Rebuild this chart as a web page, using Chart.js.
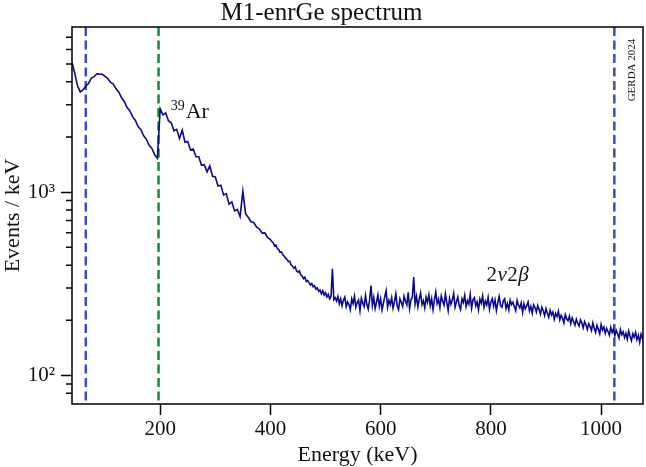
<!DOCTYPE html>
<html>
<head>
<meta charset="utf-8">
<title>M1-enrGe spectrum</title>
<script src="https://cdn.jsdelivr.net/npm/chart.js@4.4.1/dist/chart.umd.min.js"></script>
<style>
  html, body { margin: 0; padding: 0; background: #fff; }
</style>
</head>
<body>
<canvas id="spectrumChart" width="646" height="467"></canvas>
<script>
// spectrum values (events / keV)
// 40 - 395 keV in 5 keV steps
const lowStart = 40;
const lowStep = 5;
const lowCounts = [
  5100, 4450, 3800, 3520, 3610, 3790, 3910, 4190, 4260, 4420,
  4400, 4390, 4280, 4160, 3960, 3880, 3660, 3510, 3270, 3110,
  2890, 2770, 2580, 2460, 2280, 2190, 2030, 1940, 1800, 1730,
  1600, 1530,
  2850, 2640, 2700, 2450, 2390, 2160, 2200, 1960, 2180, 1870,
  1890, 1700, 1720, 1560, 1560, 1400, 1410, 1290, 1390, 1220,
  1210, 1080, 1090, 965, 980, 860, 885, 790, 805, 735,
  1010, 760, 728, 690, 682, 645, 630, 598, 600, 565
];
// 400 - 1080 keV in 2.5 keV steps
const highStart = 400;
const highStep = 2.5;
const highCounts = [
  552, 538, 530, 509, 515, 492, 488, 470,
  472, 455, 448, 437, 431, 418, 420, 401,
  396, 385, 392, 371, 366, 372, 354, 349,
  338, 344, 326, 330, 321, 312, 318, 305,
  309, 296, 301, 288, 293, 279, 290, 275,
  283, 268, 277, 262, 271, 382, 259, 266,
  255, 270, 246, 262, 240, 258, 268, 237,
  252, 244, 229, 262, 247, 271, 236, 250,
  258, 226, 264, 249, 238, 273, 243, 230,
  259, 310, 241, 266, 232, 251, 275, 239,
  262, 228, 248, 270, 290, 236, 257, 244,
  266, 233, 252, 279, 241, 229, 262, 250,
  238, 271, 255, 243, 284, 232, 259, 267,
  345, 246, 270, 237, 261, 282, 244, 256,
  234, 268, 251, 276, 240, 263, 229, 258,
  286, 247, 261, 235, 272, 255, 242, 279,
  250, 226, 264, 245, 258, 281, 236, 252,
  268, 241, 229, 262, 250, 274, 238, 256,
  245, 277, 233, 259, 266, 240, 252, 228,
  261, 248, 272, 236, 255, 243, 267, 230,
  252, 263, 239, 258, 226, 249, 270, 241,
  236, 255, 262, 232, 247, 228, 258, 244,
  251, 238, 226, 257, 242, 234, 249, 221,
  246, 231, 240, 252, 225, 238, 219, 243,
  235, 222, 241, 229, 216, 236, 226, 212,
  232, 219, 208, 227, 214, 222, 203, 218,
  210, 224, 201, 213, 206, 194, 215, 204,
  199, 211, 192, 206, 197, 188, 203, 193,
  186, 201, 194, 182, 197, 189, 178, 192,
  185, 176, 194, 181, 172, 188, 179, 169,
  190, 177, 184, 170, 181, 174, 166, 183,
  172, 180, 165, 176, 169, 160, 178, 167,
  173, 161, 170, 158, 175, 164, 155, 169,
  162, 172, 157, 166, 152, 168, 160, 154,
  163
];

const roiEdges = [65, 1024];      // blue dashed lines
const arEndpoint = [197];         // green dashed line
const xTicks = [200, 400, 600, 800, 1000];
const yMajorTicks = [100, 1000];
const yMajorLabels = ['10²', '10³'];
const yMinorTicks = [80, 90, 200, 300, 400, 500, 600, 700, 800, 900,
                     2000, 3000, 4000, 5000, 6000, 7000];

const serif = '"Liberation Serif", "Times New Roman", serif';
const ink = '#111';

const points = lowCounts.map((c, i) => ({ x: lowStart + i * lowStep, y: c }))
  .concat(highCounts.map((c, i) => ({ x: highStart + i * highStep, y: c })));

const spectrumDecor = {
  id: 'spectrumDecor',
  beforeDatasetsDraw(chart) {
    const { ctx, chartArea: a, scales: { x } } = chart;
    ctx.save();
    ctx.beginPath();
    ctx.rect(a.left, a.top, a.width, a.height);
    ctx.clip();
    ctx.lineWidth = 2.5;
    ctx.setLineDash([9, 4.5]);
    const vline = (e, color) => {
      const px = x.getPixelForValue(e);
      ctx.strokeStyle = color;
      ctx.beginPath();
      ctx.moveTo(px, a.top);
      ctx.lineTo(px, a.bottom);
      ctx.stroke();
    };
    roiEdges.forEach(e => vline(e, '#3a4cc0'));
    arEndpoint.forEach(e => vline(e, '#15883d'));
    ctx.restore();
  },
  afterDraw(chart) {
    const { ctx, chartArea: a, scales: { x, y } } = chart;
    ctx.save();
    // frame
    ctx.strokeStyle = '#000';
    ctx.lineWidth = 1.5;
    ctx.strokeRect(a.left, a.top, a.width, a.height);
    // minor ticks on the log axis
    ctx.beginPath();
    yMinorTicks.forEach(v => {
      const py = y.getPixelForValue(v);
      ctx.moveTo(a.left - 6, py);
      ctx.lineTo(a.left, py);
    });
    ctx.stroke();

    ctx.fillStyle = ink;
    ctx.textBaseline = 'alphabetic';
    ctx.textAlign = 'left';
    // 39Ar label
    let px = x.getPixelForValue(219), py = y.getPixelForValue(2530);
    ctx.font = '14px ' + serif;
    ctx.fillText('39', px, py - 8);
    px += ctx.measureText('39').width + 1;
    ctx.font = '22px ' + serif;
    ctx.fillText('Ar', px, py);

    // 2nu2beta label
    px = x.getPixelForValue(792);
    py = y.getPixelForValue(326);
    [['2', ''], ['ν', 'italic '], ['2', ''], ['β', 'italic ']].forEach(([t, st]) => {
      ctx.font = st + '21px ' + serif;
      ctx.fillText(t, px, py);
      px += ctx.measureText(t).width + 0.5;
    });

    // GERDA 2024 tag
    ctx.translate(a.right - 10.5, a.top + 43);
    ctx.rotate(-Math.PI / 2);
    ctx.font = '11px ' + serif;
    ctx.textAlign = 'center';
    ctx.textBaseline = 'middle';
    ctx.fillText('GERDA 2024', 0, 0);
    ctx.restore();
  }
};

new Chart(document.getElementById('spectrumChart').getContext('2d'), {
  type: 'line',
  data: {
    datasets: [{
      data: points,
      borderColor: '#0b0b8a',
      borderWidth: 1.6,
      pointRadius: 0,
      tension: 0,
      fill: false
    }]
  },
  options: {
    responsive: false,
    animation: false,
    devicePixelRatio: 1,
    layout: { padding: { top: 0, right: 3, left: 0, bottom: 0 } },
    plugins: {
      legend: { display: false },
      tooltip: { enabled: false },
      title: {
        display: true,
        text: 'M1-enrGe spectrum',
        color: ink,
        font: { family: serif, size: 25, weight: 'normal', lineHeight: 1 },
        padding: { top: 1, bottom: 1 }
      }
    },
    scales: {
      x: {
        type: 'linear',
        min: 40,
        max: 1076,
        afterBuildTicks: s => { s.ticks = xTicks.map(v => ({ value: v })); },
        afterFit: s => { s.height = 63; },
        ticks: {
          color: ink, font: { family: serif, size: 21 }, padding: 2,
          maxRotation: 0, autoSkip: false, callback: v => String(v)
        },
        grid: { drawOnChartArea: false, drawTicks: true, tickLength: 11, tickColor: '#000', tickWidth: 1.5 },
        border: { display: false },
        title: {
          display: true, text: 'Energy (keV)', color: ink,
          font: { family: serif, size: 22, lineHeight: 1.05 }, padding: 0
        }
      },
      y: {
        type: 'logarithmic',
        min: 70,
        max: 7950,
        afterBuildTicks: s => { s.ticks = yMajorTicks.map(v => ({ value: v, major: true })); },
        afterFit: s => { s.width = 72; },
        ticks: {
          color: ink, font: { family: serif, size: 21 }, padding: 6, autoSkip: false,
          callback: v => { const i = yMajorTicks.indexOf(v); return i >= 0 ? yMajorLabels[i] : ''; }
        },
        grid: { drawOnChartArea: false, drawTicks: true, tickLength: 11, tickColor: '#000', tickWidth: 1.5 },
        border: { display: false },
        title: {
          display: true, text: 'Events / keV', color: ink,
          font: { family: serif, size: 22, lineHeight: 1.2 }, padding: 0
        }
      }
    }
  },
  plugins: [spectrumDecor]
});
</script>
</body>
</html>
